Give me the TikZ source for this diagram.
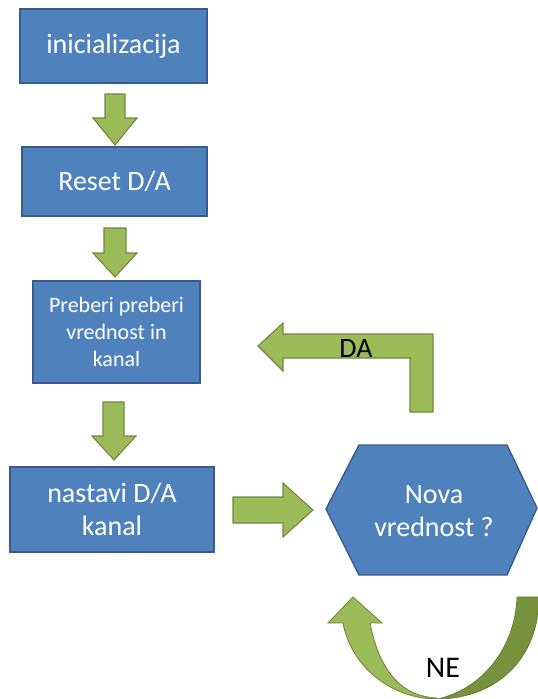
\documentclass[tikz,border=0pt]{standalone}
\usepackage{fontspec}
\setmainfont{Carlito}
\definecolor{boxfill}{HTML}{4F81BD}
\definecolor{boxline}{HTML}{385D8A}
\definecolor{arrfill}{HTML}{9BBB59}
\definecolor{arrline}{HTML}{71893F}
\definecolor{arrdark}{HTML}{76923C}
\begin{document}
\begin{tikzpicture}[x=1pt,y=-1pt,
  stepbox/.style={draw=boxline,fill=boxfill,line width=1.4pt,text=white,
    align=center,inner sep=0pt,font=\fontsize{28}{33}\selectfont},
  blockarrow/.style={draw=arrline,fill=arrfill,line width=1.1pt,line join=miter},
  backband/.style={draw=arrdark!80!black,fill=arrdark,line width=0.6pt},
  lbl/.style={text=black,font=\fontsize{28}{33}\selectfont,inner sep=0pt}]
\useasboundingbox (0,0) rectangle (538,699);
\fill[white] (0,0) rectangle (538,699);

% process boxes
\node[stepbox,minimum width=187pt,minimum height=74pt] (init) at (113.5,46) {inicializacija};
\node[stepbox,minimum width=185pt,minimum height=69pt] (reset) at (114.5,181.5) {Reset D/A};
\node[stepbox,minimum width=167pt,minimum height=102pt,
  font=\fontsize{22}{27}\selectfont] (read) at (116.5,332) {Preberi preberi\\vrednost in\\kanal};
\node[stepbox,minimum width=204pt,minimum height=85pt] (set) at (112,509.5) {nastavi D/A\\kanal};

% decision hexagon
\coordinate (hw) at (326,509);
\coordinate (hnw) at (359,445);
\coordinate (hne) at (507,445);
\coordinate (he) at (537,508);
\coordinate (hse) at (507,575);
\coordinate (hsw) at (359,575);
\draw[draw=boxline,fill=boxfill,line width=1.4pt,line join=round]
  (hw) -- (hnw) -- (hne) -- (he) -- (hse) -- (hsw) -- cycle;
\node[text=white,align=center,font=\fontsize{28}{33}\selectfont] (dec) at (434,511) {Nova\\vrednost ?};

% downward block arrows between the boxes
\draw[blockarrow] (105,94) -- (125,94) -- (125,118) -- (137,118) -- (115,145)
  -- (93,118) -- (105,118) -- cycle;
\draw[blockarrow] (104,228) -- (126,228) -- (126,253) -- (137,253) -- (115,277)
  -- (93,253) -- (104,253) -- cycle;
\draw[blockarrow] (103,402) -- (124,402) -- (124,436) -- (136,436) -- (114,460)
  -- (92,436) -- (103,436) -- cycle;

% right arrow into the decision
\draw[blockarrow] (233,497) -- (283,497) -- (283,483) -- (313,510) -- (283,537)
  -- (283,523) -- (233,523) -- cycle;

% bent arrow back (DA)
\draw[blockarrow] (433,412) -- (410,412) -- (410,358) -- (283,358) -- (283,371)
  -- (258,346) -- (283,323) -- (283,334) -- (433,334) -- cycle;
\node[lbl] (da) at (356,349) {DA};

% curved loop arrow (NE): back face, then front face with head
\draw[backband] (517,597) -- (539,597)
  .. controls (539,660) and (495,699) .. (437,699)
  .. controls (480,690) and (515,650) .. (517,597) -- cycle;
\draw[blockarrow,line width=0.9pt] (437,699)
  .. controls (395,699) and (352,670) .. (343,623)
  -- (328,623) -- (353,597) -- (382,623) -- (370,623)
  .. controls (380,675) and (405,697) .. (437,698) -- cycle;
\node[lbl,font=\fontsize{30}{34}\selectfont] (ne) at (443,668) {NE};
\end{tikzpicture}
\end{document}
